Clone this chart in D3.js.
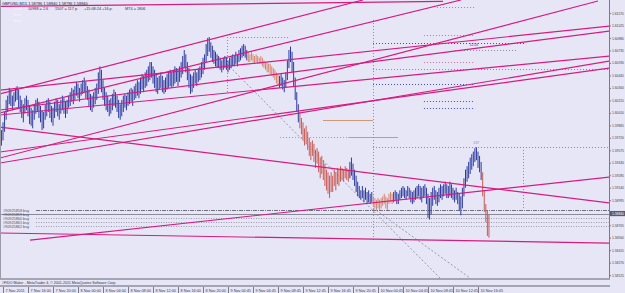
<!DOCTYPE html>
<html><head><meta charset="utf-8">
<script src="https://cdn.jsdelivr.net/npm/d3@7"></script>
<style>
body{margin:0;background:#e6e6f7;}
svg{display:block;font-family:"Liberation Sans",Arial,sans-serif;}
</style>
</head><body><script>
// GBPUSD M15 bars, highs / lows
const highs = [
1.5983,1.5981,1.5990,1.6002,1.6016,1.6021,1.6030,1.6028,1.6021,1.6025,
1.6030,1.6032,1.6028,1.6021,1.6016,1.6011,1.6018,1.6021,1.6016,1.6009,
1.6007,1.6004,1.6011,1.6016,1.6018,1.6014,1.6009,1.6004,1.6002,1.6011,
1.6016,1.6018,1.6014,1.6009,1.6007,1.6014,1.6018,1.6016,1.6011,1.6016,
1.6021,1.6018,1.6014,1.6016,1.6021,1.6025,1.6030,1.6028,1.6032,1.6037,
1.6035,1.6030,1.6035,1.6039,1.6042,1.6037,1.6032,1.6028,1.6023,1.6021,
1.6025,1.6030,1.6035,1.6048,1.6055,1.6051,1.6039,1.6030,1.6025,1.6021,
1.6016,1.6018,1.6023,1.6028,1.6025,1.6021,1.6016,1.6011,1.6016,1.6021,
1.6023,1.6021,1.6025,1.6028,1.6030,1.6028,1.6032,1.6035,1.6039,1.6037,
1.6042,1.6046,1.6044,1.6048,1.6051,1.6055,1.6060,1.6060,1.6055,1.6051,
1.6046,1.6042,1.6044,1.6048,1.6044,1.6039,1.6042,1.6046,1.6048,1.6051,
1.6048,1.6051,1.6055,1.6053,1.6051,1.6055,1.6060,1.6067,1.6074,1.6069,
1.6060,1.6053,1.6046,1.6044,1.6048,1.6051,1.6048,1.6053,1.6055,1.6060,
1.6065,1.6069,1.6081,1.6088,1.6089,1.6083,1.6079,1.6074,1.6072,1.6069,
1.6067,1.6065,1.6062,1.6065,1.6067,1.6065,1.6062,1.6065,1.6067,1.6069,
1.6067,1.6072,1.6069,1.6074,1.6076,1.6079,1.6081,1.6079,1.6074,1.6072,
1.6069,1.6072,1.6069,1.6067,1.6069,1.6067,1.6065,1.6067,1.6065,1.6062,
1.6060,1.6060,1.6058,1.6058,1.6055,1.6053,1.6051,1.6048,1.6046,1.6044,
1.6046,1.6042,1.6039,1.6048,1.6062,1.6074,1.6078,1.6072,1.6060,1.6042,
1.6025,1.6011,1.6002,1.5995,1.5990,1.5983,1.5986,1.5979,1.5972,1.5967,
1.5969,1.5965,1.5958,1.5960,1.5956,1.5949,1.5951,1.5946,1.5942,1.5935,
1.5932,1.5928,1.5932,1.5928,1.5935,1.5932,1.5937,1.5935,1.5939,1.5937,
1.5935,1.5939,1.5937,1.5935,1.5944,1.5949,1.5942,1.5935,1.5928,1.5921,
1.5916,1.5911,1.5916,1.5911,1.5914,1.5909,1.5911,1.5907,1.5909,1.5904,
1.5902,1.5900,1.5902,1.5900,1.5902,1.5904,1.5907,1.5904,1.5902,1.5907,
1.5909,1.5907,1.5909,1.5911,1.5909,1.5907,1.5911,1.5914,1.5916,1.5914,
1.5911,1.5916,1.5914,1.5911,1.5909,1.5911,1.5914,1.5916,1.5918,1.5916,
1.5914,1.5916,1.5918,1.5914,1.5907,1.5902,1.5909,1.5914,1.5916,1.5911,
1.5909,1.5914,1.5918,1.5916,1.5918,1.5921,1.5918,1.5916,1.5921,1.5918,
1.5914,1.5911,1.5914,1.5909,1.5907,1.5904,1.5914,1.5925,1.5935,1.5939,
1.5944,1.5949,1.5953,1.5956,1.5960,1.5961,1.5956,1.5951,1.5944,1.5932,
1.5911,1.5895,1.5888,1.5883];
const lows = [
1.5960,1.5963,1.5969,1.5979,1.5993,1.6002,1.6011,1.6009,1.6004,1.6009,
1.6014,1.6016,1.6007,1.6002,1.5995,1.5990,1.6000,1.6004,1.5997,1.5988,
1.5986,1.5983,1.5993,1.6000,1.6002,1.5995,1.5990,1.5981,1.5983,1.5993,
1.5997,1.6002,1.5995,1.5990,1.5986,1.5995,1.6002,1.5997,1.5993,1.6000,
1.6004,1.6000,1.5995,1.6000,1.6007,1.6009,1.6014,1.6011,1.6016,1.6021,
1.6018,1.6014,1.6021,1.6023,1.6025,1.6018,1.6016,1.6009,1.6004,1.6002,
1.6007,1.6011,1.6016,1.6023,1.6030,1.6025,1.6016,1.6009,1.6004,1.6002,
1.5997,1.6000,1.6004,1.6009,1.6007,1.6002,1.5995,1.5993,1.5997,1.6002,
1.6007,1.6004,1.6009,1.6011,1.6014,1.6009,1.6016,1.6018,1.6021,1.6018,
1.6023,1.6028,1.6025,1.6030,1.6032,1.6037,1.6039,1.6042,1.6035,1.6030,
1.6025,1.6023,1.6028,1.6030,1.6025,1.6023,1.6025,1.6028,1.6030,1.6032,
1.6030,1.6032,1.6035,1.6037,1.6032,1.6037,1.6042,1.6046,1.6053,1.6048,
1.6039,1.6030,1.6023,1.6025,1.6030,1.6035,1.6032,1.6037,1.6039,1.6042,
1.6046,1.6051,1.6060,1.6067,1.6072,1.6065,1.6060,1.6058,1.6055,1.6053,
1.6053,1.6051,1.6048,1.6051,1.6053,1.6051,1.6048,1.6051,1.6053,1.6055,
1.6055,1.6058,1.6055,1.6060,1.6062,1.6065,1.6067,1.6065,1.6062,1.6060,
1.6060,1.6062,1.6060,1.6058,1.6060,1.6058,1.6058,1.6058,1.6055,1.6053,
1.6051,1.6048,1.6048,1.6046,1.6044,1.6042,1.6039,1.6035,1.6032,1.6030,
1.6032,1.6028,1.6025,1.6030,1.6039,1.6053,1.6060,1.6048,1.6032,1.6016,
1.6002,1.5990,1.5983,1.5976,1.5969,1.5963,1.5965,1.5958,1.5951,1.5946,
1.5951,1.5944,1.5937,1.5942,1.5932,1.5925,1.5930,1.5923,1.5916,1.5911,
1.5907,1.5902,1.5909,1.5909,1.5916,1.5911,1.5918,1.5916,1.5921,1.5923,
1.5921,1.5925,1.5923,1.5921,1.5925,1.5928,1.5923,1.5916,1.5909,1.5904,
1.5902,1.5900,1.5902,1.5897,1.5900,1.5895,1.5897,1.5895,1.5897,1.5893,
1.5890,1.5888,1.5890,1.5888,1.5890,1.5893,1.5895,1.5890,1.5888,1.5895,
1.5897,1.5895,1.5897,1.5900,1.5895,1.5895,1.5900,1.5902,1.5904,1.5902,
1.5900,1.5904,1.5902,1.5897,1.5895,1.5897,1.5900,1.5902,1.5904,1.5900,
1.5897,1.5902,1.5904,1.5895,1.5879,1.5877,1.5883,1.5893,1.5900,1.5895,
1.5893,1.5897,1.5902,1.5900,1.5904,1.5907,1.5902,1.5902,1.5904,1.5902,
1.5900,1.5897,1.5900,1.5895,1.5888,1.5882,1.5890,1.5904,1.5914,1.5921,
1.5925,1.5930,1.5935,1.5939,1.5944,1.5946,1.5937,1.5932,1.5923,1.5904,
1.5886,1.5874,1.5858,1.5856];
// indicator state of the bars: [first bar, last bar, state]
const trendRuns = [[0,158,"up"],[159,178,"flat"],[179,191,"up"],[192,223,"down"],
  [224,238,"up"],[239,251,"flat"],[252,308,"up"],[309,313,"down"]];

const timeLabels = ["7 Nov 2011","7 Nov 16:00","7 Nov 20:00","8 Nov 00:00","8 Nov 04:00",
  "8 Nov 08:00","8 Nov 12:00","8 Nov 16:00","8 Nov 20:00","9 Nov 00:45","9 Nov 04:45",
  "9 Nov 08:45","9 Nov 12:45","9 Nov 16:45","9 Nov 20:45","10 Nov 00:45","10 Nov 04:45",
  "10 Nov 08:45","10 Nov 12:45","10 Nov 16:45"];
const labelBars = [2,18,34,50,66,82,98,114,130,146,162,178,194,210,226,242,258,274,290,306];
const priceTicks = [1.61170,1.61025,1.60880,1.60735,1.60590,1.60445,1.60300,1.60155,1.60010,
  1.59865,1.59720,1.59575,1.59430,1.59285,1.59140,1.58995,1.58850,1.58705,1.58560,1.58415,
  1.58270,1.58125];
const bidPrice = 1.58840;

// trendlines: [bar1, price1, bar2, price2]
const trendLines = [
  [0,1.61246,283.6,1.61304],
  [0,1.60229,232.4,1.61321],
  [0,1.60008,295.1,1.61321],
  [0,1.59485,382.8,1.61309],
  [0,1.60275,390.5,1.61019],
  [0,1.60043,390.5,1.60961],
  [0,1.59985,390.5,1.60670],
  [0,1.59555,390.5,1.60531],
  [0,1.59427,390.5,1.60612],
  [0,1.59845,390.5,1.58962],
  [19.3,1.58532,390.5,1.59264],
  [0,1.58614,390.5,1.58497]];
// horizontal levels: [price, bar1, bar2, kind]
const levels = [
  [1.61240,279.8,304.1,"pink"],[1.60914,271.4,304.1,"pink"],[1.60821,238.8,336.1,"blue"],
  [1.60740,291.3,331.0,"grey"],[1.60601,271.4,304.1,"pink"],[1.60519,238.8,389.3,"brown"],
  [1.60345,238.8,302.8,"blue"],[1.60148,271.4,304.1,"blue"],[1.60066,271.4,304.1,"blue"],
  [1.60891,145.4,185.7,"grey"],[1.59613,238.8,389.3,"grey"],
  [1.59729,179.3,223.0,"tan"],[1.59729,223.0,254.8,"tansolid"],[1.59927,206.8,238.8,"tansolid"]];
// vertical dotted markers: [bar, price top, price bottom]
const verticals = [[145.4,1.60891,1.60241],[238.8,1.61089,1.58532],[334.8,1.59613,1.58881]];
// dotted diagonals: [bar1, price1, bar2, price2]
const diagonals = [[145.4,1.60577,281.7,1.58091],[238.8,1.58904,300.9,1.58091]];
// order lines at the bottom
const orders = [["#90925858 buy",1.58881],["#90925859 buy",1.58834],["#90925860 buy",1.58788],
  ["#90925861 buy",1.58741],["#90925862 buy",1.58695]];

const W = 625, H = 293, plotRight = 609, plotBottom = 278;
const svg = d3.select("body").append("svg").attr("width", W).attr("height", H);
svg.append("rect").attr("width", W).attr("height", H).attr("fill", "#e6e6f7");

const x = d3.scaleLinear().domain([2, 322]).range([3, 503]);
const y = d3.scaleLinear().domain([1.58125, 1.61170]).range([275.1, 13]);

const plot = svg.append("g");
plot.append("clipPath").attr("id", "clip").append("rect")
  .attr("x", 0).attr("y", 0).attr("width", plotRight).attr("height", plotBottom);
const g = plot.append("g").attr("clip-path", "url(#clip)");

// dotted helper objects
const lvlColor = {pink:"#d0709a", blue:"#4050c0", grey:"#8c8c9c", brown:"#b08070", tan:"#c8906a", tansolid:"#d09a78"};
g.selectAll(".lvl").data(levels).enter().append("line")
  .attr("x1", d => x(d[1])).attr("x2", d => x(d[2]))
  .attr("y1", d => Math.round(y(d[0])) + 0.5).attr("y2", d => Math.round(y(d[0])) + 0.5)
  .attr("stroke", d => lvlColor[d[3]]).attr("stroke-width", 1)
  .attr("stroke-dasharray", d => d[3] == "tansolid" ? null : "1,2");
g.selectAll(".vert").data(verticals).enter().append("line")
  .attr("x1", d => Math.round(x(d[0])) + 0.5).attr("x2", d => Math.round(x(d[0])) + 0.5)
  .attr("y1", d => y(d[1])).attr("y2", d => y(d[2]))
  .attr("stroke", "#8c8c9c").attr("stroke-dasharray", "1,2");
g.selectAll(".diag").data(diagonals).enter().append("line")
  .attr("x1", d => x(d[0])).attr("y1", d => y(d[1]))
  .attr("x2", d => x(d[2])).attr("y2", d => y(d[3]))
  .attr("stroke", "#9898a8").attr("stroke-dasharray", "2,2");

// order lines and bid line
g.selectAll(".ord").data(orders).enter().append("line")
  .attr("x1", 36).attr("x2", plotRight)
  .attr("y1", d => Math.round(y(d[1])) + 0.5).attr("y2", d => Math.round(y(d[1])) + 0.5)
  .attr("stroke", (d, i) => i == 0 ? "#707080" : "#9a9aaa")
  .attr("stroke-dasharray", (d, i) => i == 0 ? "4,1,1,1" : "1,1.5");
g.append("line").attr("x1", 0).attr("x2", plotRight)
  .attr("y1", Math.round(y(bidPrice)) + 0.5).attr("y2", Math.round(y(bidPrice)) + 0.5)
  .attr("stroke", "#8a8a98");
svg.selectAll(".ordlab").data(orders).enter().append("text")
  .attr("x", 3).attr("y", d => y(d[1]) + 1.5)
  .attr("font-size", 3.8).attr("fill", "#505060").text(d => d[0]);

// price bars
const stateColor = {up:"#2f3c9e", flat:"#d4866c", down:"#c85a55"};
const bars = d3.range(highs.length).map(i => {
  const run = trendRuns.find(r => i >= r[0] && i <= r[1]);
  return {i: i, hi: highs[i], lo: lows[i], state: run[2]};
});
g.selectAll(".bar").data(bars).enter().append("line")
  .attr("x1", d => x(d.i)).attr("x2", d => x(d.i))
  .attr("y1", d => y(d.hi)).attr("y2", d => y(d.lo))
  .attr("stroke", d => stateColor[d.state]).attr("stroke-width", 1);

// trendlines
g.selectAll(".tl").data(trendLines).enter().append("line")
  .attr("x1", d => x(d[0])).attr("y1", d => y(d[1]))
  .attr("x2", d => x(d[2])).attr("y2", d => y(d[3]))
  .attr("stroke", "#d81b7e").attr("stroke-width", 1.2);

// small object texts
svg.append("text").attr("x", x(300.5)).attr("y", y(1.60800) + 1.5)
  .attr("font-size", 3.8).attr("fill", "#3040c0").text("1214");
svg.append("text").attr("x", x(303)).attr("y", y(1.59650))
  .attr("font-size", 3.5).attr("fill", "#8888a0").text("137");

// header
svg.append("text").attr("x", 2).attr("y", 5).attr("font-size", 3.9).attr("fill", "#202030")
  .text("GBPUSD,M15  1.58786 1.58840 1.58786 1.58840");
const infoRow = [["10988 = 2.6", 28], ["1507  = 117 p.", 55], ["+15:08:24 +16 p.", 84], ["MT4 = 1806", 125]];
svg.selectAll(".info").data(infoRow).enter().append("text")
  .attr("x", d => d[1]).attr("y", 10).attr("font-size", 3.8).attr("fill", "#303048").text(d => d[0]);
svg.selectAll(".txt").data([9.5, 15.5, 21.5]).enter().append("text")
  .attr("x", 13).attr("y", d => d).attr("font-size", 4.2).attr("fill", "#f6f6ff").text("Text");

// frame
svg.append("line").attr("x1", 0.5).attr("x2", 0.5).attr("y1", 0).attr("y2", plotBottom)
  .attr("stroke", "#9a9aaa");
svg.append("line").attr("x1", plotRight + 0.5).attr("x2", plotRight + 0.5).attr("y1", 0).attr("y2", plotBottom)
  .attr("stroke", "#7a7a8a");
svg.append("rect").attr("x", 0).attr("y", plotBottom).attr("width", plotRight + 1).attr("height", 2)
  .attr("fill", "#a4a4b4");
svg.append("rect").attr("x", 0).attr("y", 285).attr("width", plotRight + 1).attr("height", 2)
  .attr("fill", "#a4a4b4");
svg.append("text").attr("x", 2).attr("y", 284.3).attr("font-size", 3.6).attr("fill", "#303040")
  .text("#FIDO Maker - MetaTrader 4, \u00a9 2001-2011 MetaQuotes Software Corp.");

// price axis
const yAxis = svg.append("g").attr("transform", `translate(${plotRight},0)`)
  .call(d3.axisRight(y).tickValues(priceTicks).tickSize(2).tickFormat(d3.format(".5f")));
yAxis.select(".domain").remove();
yAxis.selectAll("line").attr("stroke", "#7a7a8a");
yAxis.selectAll("text").attr("x", 3).attr("font-size", 3.3).attr("fill", "#404050")
  .attr("font-family", "Liberation Sans, Arial, sans-serif");
const by = y(bidPrice);
svg.append("rect").attr("x", plotRight + 1).attr("y", by - 2.6).attr("width", 15).attr("height", 5.2)
  .attr("fill", "#5a5a6a");
svg.append("text").attr("x", plotRight + 3).attr("y", by + 1.2).attr("font-size", 3.3)
  .attr("fill", "#ffffff").text(d3.format(".5f")(bidPrice));

// time axis
const xAxis = svg.append("g").attr("transform", "translate(0,287)")
  .call(d3.axisBottom(x).tickValues(labelBars).tickSize(6)
    .tickFormat((d, i) => timeLabels[i]));
xAxis.select(".domain").remove();
xAxis.selectAll("line").attr("stroke", "#7a7a8a");
xAxis.selectAll("text").attr("text-anchor", "start").attr("x", 2).attr("y", 2.2)
  .attr("dy", "0.71em").attr("font-size", 3.8).attr("fill", "#404050")
  .attr("font-family", "Liberation Sans, Arial, sans-serif");
</script></body></html>
